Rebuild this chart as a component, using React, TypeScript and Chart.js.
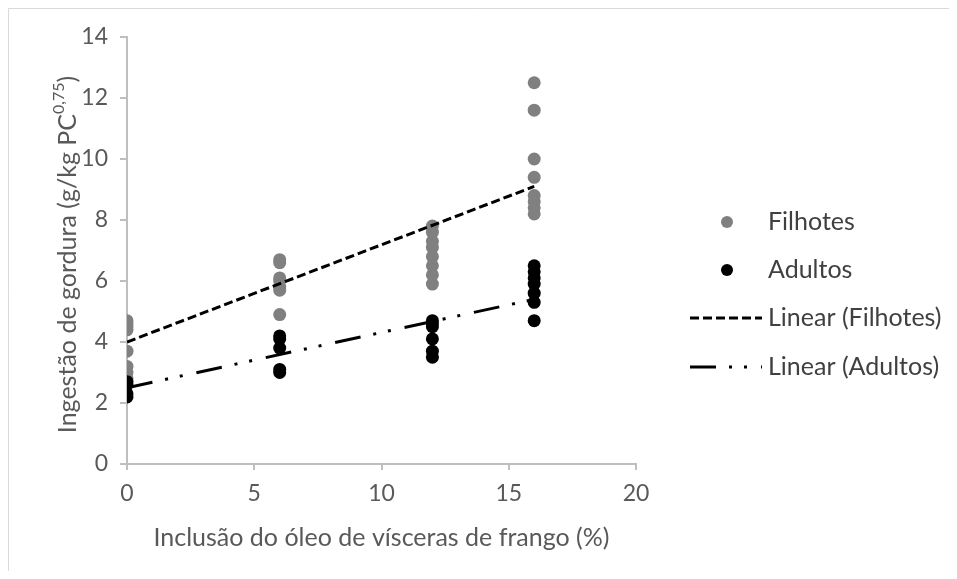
import { useEffect, useRef } from "react";
import { Chart, registerables } from "chart.js";

Chart.register(...registerables);

// ---- data ----
const doses = [0, 6, 12, 16];
const filhotes0 = [4.7, 4.6, 4.5, 4.4, 3.7, 3.2, 3.0, 2.8];
const filhotes6 = [6.7, 6.6, 6.1, 6.0, 5.8, 5.7, 4.9];
const filhotes12 = [7.8, 7.6, 7.3, 7.1, 6.8, 6.5, 6.2, 5.9];
const filhotes16 = [12.5, 11.6, 10.0, 9.4, 8.8, 8.6, 8.4, 8.2];
const adultos0 = [2.7, 2.6, 2.3, 2.2];
const adultos6 = [4.2, 4.1, 3.8, 3.1, 3.0];
const adultos12 = [4.7, 4.6, 4.5, 4.1, 3.7, 3.5];
const adultos16 = [6.5, 6.3, 6.1, 5.9, 5.6, 5.3, 4.7];
const trendX = [0, 16];
const filhotesTrend = [4.0, 9.1];
const adultosTrend = [2.5, 5.4];
const seriesNames = ["Filhotes", "Adultos", "Linear (Filhotes)", "Linear (Adultos)"];
const xTitle = "Inclusão do óleo de vísceras de frango (%)";
const yTitleMain = "Ingestão de gordura (g/kg PC";
const yTitleSup = "0,75";
const yTitleEnd = ")";

const FONT = "Lato, 'Liberation Sans', sans-serif";
const GRAY_PT = "#808080";
const AXIS = "#bfbfbf";
const TXT = "#595959";
const LEG = "#404040";
const DASH_F = [9, 4];
const DASH_A = [26, 13, 3, 12, 3, 14];

const toPts = (groups: number[][]) =>
  groups.flatMap((vals, i) => vals.map((v) => ({ x: doses[i], y: v })));

export default function App() {
  const ref = useRef<HTMLCanvasElement | null>(null);

  useEffect(() => {
    if (!ref.current) return;
    const filPts = toPts([filhotes0, filhotes6, filhotes12, filhotes16]);
    const aduPts = toPts([adultos0, adultos6, adultos12, adultos16]);
    const filTr = trendX.map((x, i) => ({ x, y: filhotesTrend[i] }));
    const aduTr = trendX.map((x, i) => ({ x, y: adultosTrend[i] }));

    const decor = {
      id: "decor",
      afterDraw(chart: any) {
        const ctx = chart.ctx as CanvasRenderingContext2D;
        const a = chart.chartArea;
        ctx.save();
        // frame
        ctx.strokeStyle = "#d9d9d9";
        ctx.lineWidth = 1;
        ctx.beginPath();
        ctx.moveTo(0.5, chart.height);
        ctx.lineTo(0.5, 0.5);
        ctx.lineTo(chart.width, 0.5);
        ctx.stroke();

        // x title
        ctx.fillStyle = TXT;
        ctx.font = `25px ${FONT}`;
        ctx.textAlign = "center";
        ctx.textBaseline = "middle";
        ctx.fillText(xTitle, (a.left + a.right) / 2, a.bottom + 74);

        // y title with superscript
        ctx.save();
        ctx.translate(60, (a.top + a.bottom) / 2 + 4);
        ctx.rotate(-Math.PI / 2);
        ctx.font = `25px ${FONT}`;
        const w1 = ctx.measureText(yTitleMain).width;
        const w3 = ctx.measureText(yTitleEnd).width;
        ctx.font = `16px ${FONT}`;
        const w2 = ctx.measureText(yTitleSup).width;
        const total = w1 + w2 + w3;
        let x = -total / 2;
        ctx.textAlign = "left";
        ctx.font = `25px ${FONT}`;
        ctx.fillText(yTitleMain, x, 0);
        x += w1;
        ctx.font = `16px ${FONT}`;
        ctx.fillText(yTitleSup, x, -9);
        x += w2;
        ctx.font = `25px ${FONT}`;
        ctx.fillText(yTitleEnd, x, 0);
        ctx.restore();

        // legend
        const lx = a.right + 91;
        const tx = a.right + 132;
        const rows = [214, 262, 310, 359];
        ctx.font = `25px ${FONT}`;
        ctx.textAlign = "left";
        ctx.textBaseline = "middle";
        rows.forEach((ry, i) => {
          if (i < 2) {
            ctx.fillStyle = i === 0 ? GRAY_PT : "#000";
            ctx.beginPath();
            ctx.arc(lx, ry, 6, 0, Math.PI * 2);
            ctx.fill();
          } else {
            ctx.strokeStyle = "#000";
            ctx.lineWidth = 3;
            ctx.setLineDash(i === 2 ? DASH_F : DASH_A);
            ctx.beginPath();
            ctx.moveTo(a.right + 54, ry);
            ctx.lineTo(a.right + 126, ry);
            ctx.stroke();
            ctx.setLineDash([]);
          }
          ctx.fillStyle = LEG;
          ctx.fillText(seriesNames[i], tx, ry);
        });
        ctx.restore();
      },
    };

    const chart = new Chart(ref.current, {
      type: "scatter",
      data: {
        datasets: [
          {
            type: "line",
            label: seriesNames[2],
            data: filTr,
            borderColor: "#000",
            borderWidth: 3,
            borderDash: DASH_F,
            pointRadius: 0,
            fill: false,
            order: 0,
          },
          {
            type: "line",
            label: seriesNames[3],
            data: aduTr,
            borderColor: "#000",
            borderWidth: 3,
            borderDash: DASH_A,
            pointRadius: 0,
            fill: false,
            order: 1,
          },
          {
            label: seriesNames[1],
            data: aduPts,
            backgroundColor: "#000",
            borderWidth: 0,
            pointRadius: 6.5,
            order: 2,
          },
          {
            label: seriesNames[0],
            data: filPts,
            backgroundColor: GRAY_PT,
            borderWidth: 0,
            pointRadius: 6.5,
            order: 3,
          },
        ],
      } as any,
      options: {
        animation: false,
        responsive: false,
        maintainAspectRatio: false,
        layout: { padding: { left: 0, top: 29, right: 313, bottom: 0 } },
        plugins: { legend: { display: false }, tooltip: { enabled: false } },
        scales: {
          x: {
            type: "linear",
            min: 0,
            max: 20,
            ticks: { stepSize: 5, color: TXT, font: { family: FONT, size: 23 }, padding: 10 },
            grid: { display: true, drawOnChartArea: false, drawTicks: true, tickLength: 6, color: AXIS, lineWidth: 2 },
            border: { color: AXIS, width: 2 },
            afterFit: (s: any) => {
              s.height = 107;
            },
          },
          y: {
            type: "linear",
            min: 0,
            max: 14,
            ticks: { stepSize: 2, color: TXT, font: { family: FONT, size: 23 }, padding: 12 },
            grid: { display: true, drawOnChartArea: false, drawTicks: true, tickLength: 7, color: AXIS, lineWidth: 2 },
            border: { color: AXIS, width: 2 },
            afterFit: (s: any) => {
              s.width = 119;
            },
          },
        },
      } as any,
      plugins: [decor],
    });
    return () => chart.destroy();
  }, []);

  return (
    <div style={{ width: 941, height: 563 }}>
      <canvas ref={ref} width={941} height={563} style={{ display: "block" }} />
    </div>
  );
}
